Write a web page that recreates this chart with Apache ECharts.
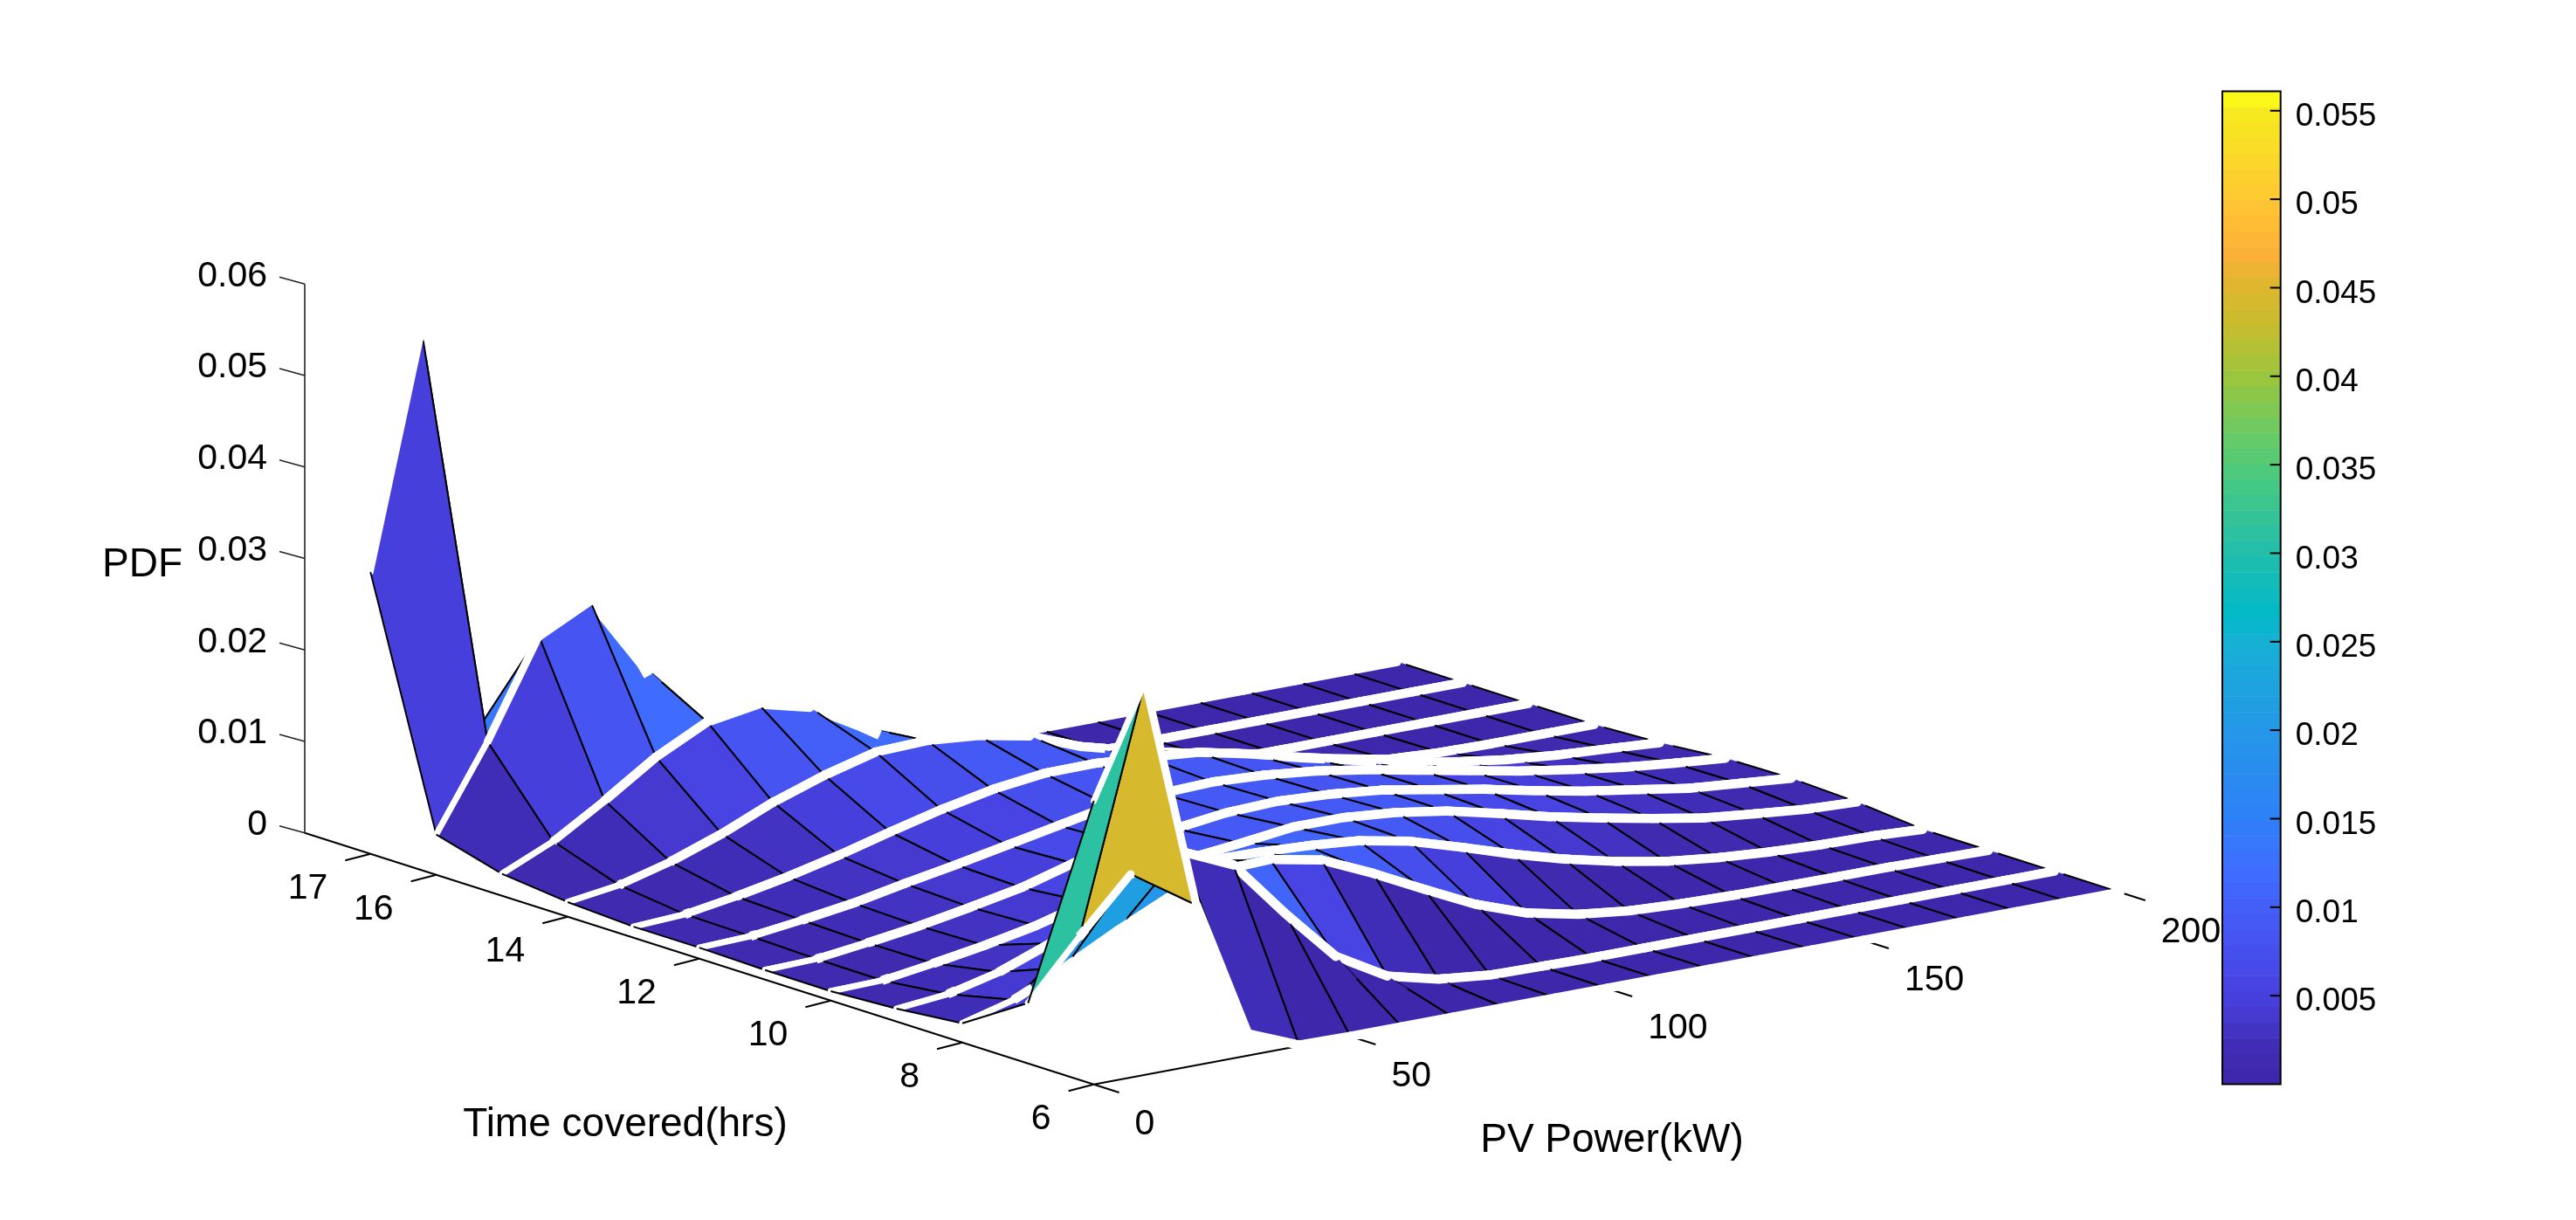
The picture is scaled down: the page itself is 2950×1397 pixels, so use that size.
<!DOCTYPE html>
<html>
<head>
<meta charset="utf-8">
<style>html,body{margin:0;padding:0;background:#fff;overflow:hidden}#c{width:2950px;height:1397px}</style>
<script src="https://cdn.jsdelivr.net/npm/echarts@6/dist/echarts.min.js"></script>
</head>
<body>
<div id="c"></div>
<script>
const powerGrid = [0,10,20,30,40,50,60,70,80,90,100,110,120,130,140,150,160,170,180,190,200];
const timeGrid = [6,7,8,9,10,11,12,13,14,15,16,17];
const pdfT6  = [.031,.043,.0175,.0024,.0001,0,0,0,0,0,0,0,0,0,0,0,0,0,0,0,0];
const pdfT7  = [.0066,.0128,.0186,.020,.0175,.0112,.0054,.0022,.0008,.0002,.0001,0,0,0,0,0,0,0,0,0,0];
const pdfT8  = [.0021,.0036,.0061,.009,.0116,.0135,.0137,.0126,.0101,.0073,.0046,.0026,.0014,.00073,.00045,.0003,.00025,.0002,.0002,.0001,0];
const pdfT9  = [.0014,.00195,.0033,.0054,.0082,.0105,.0112,.0111,.0108,.0103,.0092,.0075,.0057,.0041,.0028,.00175,.0011,.00067,.0004,.0003,0];
const pdfT10 = [.00102,.00115,.00195,.00287,.00398,.0055,.0072,.0082,.0088,.0095,.0095,.009,.0081,.0068,.0054,.0042,.0031,.0021,.0015,.00095,.0007];
const pdfT11 = [.00105,.0012,.0019,.0027,.0037,.0048,.0064,.0075,.0081,.0088,.009,.0087,.0081,.0071,.0061,.0049,.0038,.0029,.002,.0015,.001];
const pdfT12 = [.0012,.0014,.0021,.0029,.004,.005,.0061,.0072,.0083,.0086,.0088,.0085,.0079,.007,.0059,.0048,.0037,.0028,.002,.0014,.0009];
const pdfT13 = [.0012,.0015,.0024,.0035,.0048,.0063,.0077,.00885,.00955,.0096,.0092,.0087,.0075,.006,.0047,.0034,.0024,.0016,.00105,.0007,.0003];
const pdfT14 = [.0016,.0024,.0039,.0059,.0083,.0102,.0117,.0119,.0114,.0103,.0081,.0066,.0053,.0042,.0028,.0015,.0004,.0001,0,0,0];
const pdfT15 = [.0024,.0049,.0083,.012,.0148,.0157,.0143,.0111,.0075,.0055,.0035,.002,.001,.0004,.0001,0,0,0,0,0,0];
const pdfT16 = [.0044,.0135,.024,.0268,.0188,.008,.006,.0045,.003,.002,.0012,.0006,.0002,0,0,0,0,0,0,0,0];
const pdfT17 = [.0308,.056,.0107,.006,.004,.003,.002,.001,.0006,.0003,.0001,0,0,0,0,0,0,0,0,0,0];
const pdfRows = [pdfT6,pdfT7,pdfT8,pdfT9,pdfT10,pdfT11,pdfT12,pdfT13,pdfT14,pdfT15,pdfT16,pdfT17];
const faceColourValues = [[0,1,.0447],[1,0,.0045],[1,1,.0185],[1,2,.0215]];
const timeTicks = [6,8,10,12,14,16,17];
const powerTicks = [0,50,100,150,200];
const pdfTicks = [0,.01,.02,.03,.04,.05,.06];
const barTicks = [.005,.01,.015,.02,.025,.03,.035,.04,.045,.05,.055];
const barMin = 0, barMax = 0.0561, barLevels = 64;
const colourStops = [[0,'#3D26A8'],[.002,'#402CB4'],[.005,'#4740DF'],[.0085,'#4655F2'],[.012,'#3F6CFF'],[.015,'#2F80F8'],[.02,'#2497E8'],[.025,'#17B0D5'],[.0265,'#00BAC8'],[.03,'#22BEAC'],[.035,'#50CB78'],[.04,'#9CC63E'],[.043,'#C9BC2E'],[.045,'#DDB72C'],[.047,'#FDB038'],[.05,'#FFC832'],[.055,'#F6EB1F'],[.0561,'#FFFF10']];
const VIEW = {ox:1252.6, oy:1241.7, px:5.876, py:-1.1, tx:-75.3, ty:-24.0, zy:-10473};
function project(power,time,pdf){
  return [VIEW.ox+VIEW.px*power+VIEW.tx*(time-6), VIEW.oy+VIEW.py*power+VIEW.ty*(time-6)+VIEW.zy*pdf];
}
function hex(c){return [parseInt(c.slice(1,3),16),parseInt(c.slice(3,5),16),parseInt(c.slice(5,7),16)];}
function rawColour(v){
  for(let i=1;i<colourStops.length;i++){
    if(v<=colourStops[i][0]){
      const a=colourStops[i-1],b=colourStops[i],f=(v-a[0])/(b[0]-a[0]);
      const A=hex(a[1]),B=hex(b[1]);
      return 'rgb('+A.map((x,k)=>Math.round(x+(B[k]-x)*f)).join(',')+')';
    }
  }
  return colourStops[colourStops.length-1][1];
}
function levelColour(v){
  const step=(barMax-barMin)/barLevels;
  const k=Math.min(barLevels-1,Math.max(0,Math.floor((v-barMin)/step)));
  return rawColour(barMin+(k+.5)*step);
}
const faces=[];
for(let i=timeGrid.length-2;i>=0;i--)for(let j=powerGrid.length-2;j>=0;j--)faces.push([i,j]);
function faceValue(i,j){
  for(const o of faceColourValues) if(o[0]===i&&o[1]===j) return o[2];
  return pdfRows[i][j];
}
const FONT='41px "Liberation Sans", Arial, sans-serif';
const TITLE='46px "Liberation Sans", Arial, sans-serif';
const txt=(x,y,text,align,font)=>({type:'text',style:{x,y,text,fill:'#000',font:font||FONT,textAlign:align,textVerticalAlign:'middle'}});
const seg=(a,b,w,c,cap)=>({type:'line',shape:{x1:a[0],y1:a[1],x2:b[0],y2:b[1]},style:{stroke:c||'#000',lineWidth:w,lineCap:cap||'butt'}});
function trimmed(p,q,dirP,dirQ,halfW){
  const vx=q[0]-p[0],vy=q[1]-p[1],len=Math.hypot(vx,vy)||1,ux=vx/len,uy=vy/len;
  const cut=(d)=>{const l=Math.hypot(d[0],d[1])||1;const s=Math.abs(ux*d[1]/l-uy*d[0]/l);return Math.min(len*.45,halfW/Math.max(s,.15));};
  const c1=cut(dirP),c2=cut(dirQ);
  return [[p[0]+ux*c1,p[1]+uy*c1],[q[0]-ux*c2,q[1]-uy*c2]];
}
// white patch over the wedge that this face's polygon bites out of the next band on the far row
function farBandPatch(c,b,next,own,w){
  const u=(v)=>{const l=Math.hypot(v[0],v[1])||1;return [v[0]/l,v[1]/l];};
  const n=u([next[0]-c[0],next[1]-c[1]]),o=u(own),k=u([b[0]-c[0],b[1]-c[1]]);
  if(n[0]*o[0]+n[1]*o[1]<.985) return null;
  const cs=n[0]*k[0]+n[1]*k[1];
  if(cs<=0) return null;
  const sn=Math.abs(n[0]*k[1]-n[1]*k[0]);
  const e=Math.min(28,(w/2)*cs/Math.max(sn,.1));
  return [c,[c[0]+n[0]*e,c[1]+n[1]*e]];
}
const axisItems=[['frame',0]].concat(timeTicks.map(v=>['time',v]),powerTicks.map(v=>['power',v]),pdfTicks.map(v=>['pdf',v]));
const option={
  backgroundColor:'#fff',animation:false,
  grid:{left:2545,top:104.5,width:66.7,height:1137,show:false},
  xAxis:{type:'value',min:0,max:1,show:false},
  yAxis:{type:'value',position:'right',min:barMin,max:barMax,axisLine:{show:false},axisTick:{show:false},axisLabel:{show:false},splitLine:{show:false}},
  series:[
    {type:'custom',name:'axes',coordinateSystem:'none',z:1,silent:true,
     data:axisItems.map((a,i)=>[i]),
     renderItem:function(params,api){
       const it=axisItems[api.value(0)],k=it[0],v=it[1];
       if(k==='frame'){
         return {type:'group',children:[
           seg(project(0,18,0),project(0,6,0),2),
           seg(project(0,6,0),project(200,6,0),2),
           seg(project(0,18,0),project(0,18,.06),1.6,'#222'),
           txt(163,647,'PDF','center',TITLE),
           txt(716,1288,'Time covered(hrs)','center',TITLE),
           txt(1846,1306,'PV Power(kW)','center',TITLE)
         ]};
       }
       if(k==='time'){const p=project(0,v,0);return {type:'group',children:[seg(p,[p[0]-29,p[1]+7.5],2),txt(p[0]-49,p[1]+40,String(v),'right')]};}
       if(k==='power'){const p=project(v,6,0);return {type:'group',children:[seg(p,[p[0]+29,p[1]+9.3],2),txt(p[0]+47,p[1]+46,String(v),'left')]};}
       const p=project(0,18,v);
       return {type:'group',children:[seg(p,[p[0]-29,p[1]-8],1.6,'#222'),txt(p[0]-43,p[1]-9,String(v),'right')]};
     }},
    {type:'custom',name:'PDF surface',coordinateSystem:'none',z:2,silent:true,
     data:faces,
     renderItem:function(params,api){
       const i=api.value(0),j=api.value(1);
       const t0=timeGrid[i],t1=timeGrid[i+1],x0=powerGrid[j],x1=powerGrid[j+1];
       const a=project(x0,t0,pdfRows[i][j]),b=project(x1,t0,pdfRows[i][j+1]),c=project(x1,t1,pdfRows[i+1][j+1]),d=project(x0,t1,pdfRows[i+1][j]);
       const base=params.dataIndex*10;
       const w=j===0?7:(j===1?9:10.5);
       const nearDir=[b[0]-a[0],b[1]-a[1]],farDir=[c[0]-d[0],c[1]-d[1]];
       const blackA=j===0?[a,d]:trimmed(a,d,nearDir,farDir,w/2);
       const blackB=trimmed(b,c,nearDir,farDir,w/2);
       const kids=[
         {type:'polygon',z2:base,shape:{points:[a,b,c,d]},style:{fill:levelColour(faceValue(i,j)),stroke:levelColour(faceValue(i,j)),lineWidth:.6}},
         Object.assign(seg(blackB[0],blackB[1],2),{z2:base+1}),
         Object.assign(seg(d,c,w,'#fff','round'),{z2:base+2}),
         Object.assign(seg(a,b,w,'#fff','round'),{z2:base+2}),
         Object.assign(seg(blackA[0],blackA[1],2),{z2:base+3})
       ];
       if(j+2<powerGrid.length){
         const patch=farBandPatch(c,b,project(powerGrid[j+2],t1,pdfRows[i+1][j+2]),farDir,10.5);
         if(patch) kids.push(Object.assign(seg(patch[0],patch[1],10.5,'#fff'),{z2:base+2}));
       }
       return {type:'group',children:kids};
     }},
    {type:'custom',name:'colour bar',coordinateSystem:'cartesian2d',z:3,silent:true,
     data:Array.from({length:barLevels},(_, k)=>[k]),encode:{x:-1,y:-1},
     renderItem:function(params,api){
       const k=api.value(0),step=(barMax-barMin)/barLevels;
       const lo=api.coord([0,barMin+k*step]),hi=api.coord([1,barMin+(k+1)*step]);
       return {type:'rect',shape:{x:lo[0],y:hi[1],width:hi[0]-lo[0],height:lo[1]-hi[1]+.5},style:{fill:rawColour(barMin+(k+.5)*step)}};
     }},
    {type:'custom',name:'colour bar ticks',coordinateSystem:'cartesian2d',z:4,silent:true,
     data:barTicks.map(v=>[v]),encode:{x:-1,y:-1},
     renderItem:function(params,api){
       const v=api.value(0),p=api.coord([1,v]);
       return {type:'group',children:[seg([p[0],p[1]],[p[0]-12,p[1]],2),
         {type:'text',style:{x:p[0]+17,y:p[1]+7,text:String(+v.toFixed(3)),fill:'#000',font:'37px "Liberation Sans", Arial, sans-serif',textAlign:'left',textVerticalAlign:'middle'}}]};
     }},
    {type:'custom',name:'colour bar box',coordinateSystem:'cartesian2d',z:5,silent:true,
     data:[[0]],encode:{x:-1,y:-1},
     renderItem:function(params,api){
       const a=api.coord([0,barMin]),b=api.coord([1,barMax]);
       return {type:'rect',shape:{x:a[0],y:b[1],width:b[0]-a[0],height:a[1]-b[1]},style:{fill:'none',stroke:'#000',lineWidth:2}};
     }}
  ]
};
const chart=echarts.init(document.getElementById('c'),null,{renderer:'canvas',width:2950,height:1397});
chart.setOption(option);
</script>
</body>
</html>
